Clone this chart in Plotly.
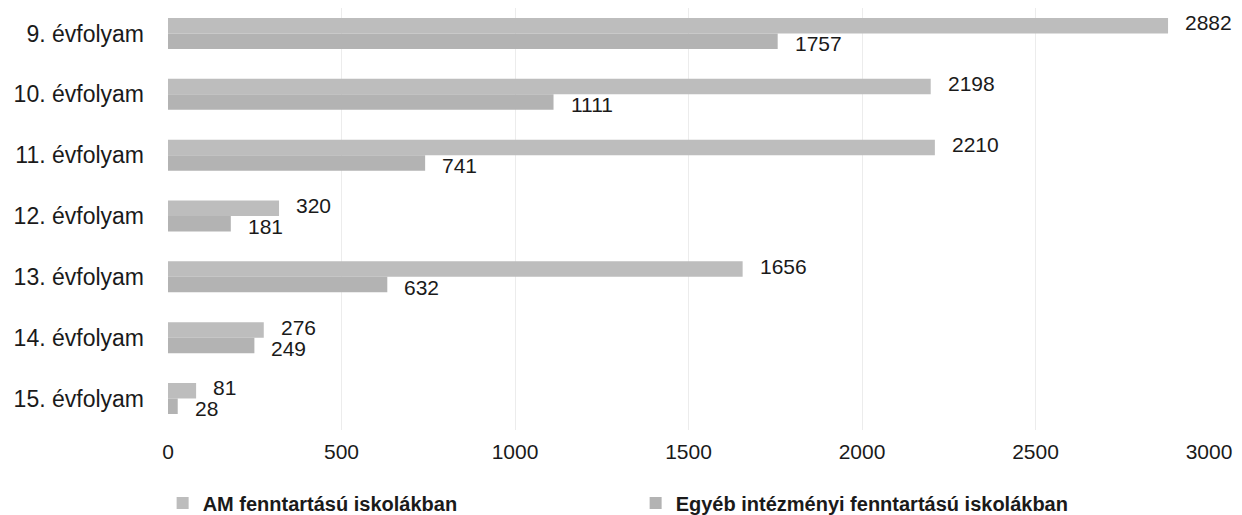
import plotly.graph_objects as go

categories = ["9. évfolyam", "10. évfolyam", "11. évfolyam", "12. évfolyam",
              "13. évfolyam", "14. évfolyam", "15. évfolyam"]
am_values = [2882, 2198, 2210, 320, 1656, 276, 81]
other_values = [1757, 1111, 741, 181, 632, 249, 28]
series_names = ["AM fenntartású iskolákban", "Egyéb intézményi fenntartású iskolákban"]
x_ticks = [0, 500, 1000, 1500, 2000, 2500, 3000]

FONT = "Liberation Sans, Arial, sans-serif"
TXT = "#1a1a1a"

fig = go.Figure()
fig.add_trace(go.Bar(
    y=categories, x=am_values, orientation="h", name=series_names[0],
    marker=dict(color="#bdbdbd", line=dict(width=0)),
))
fig.add_trace(go.Bar(
    y=categories, x=other_values, orientation="h", name=series_names[1],
    marker=dict(color="#b3b3b3", line=dict(width=0)),
))

# value labels next to bar ends (upper bar = AM, lower bar = Egyéb)
for cat, v in zip(categories, am_values):
    fig.add_annotation(x=v, y=cat, text=str(v), showarrow=False,
                       xanchor="left", yanchor="middle", xshift=15, yshift=10.5,
                       font=dict(family=FONT, size=21, color=TXT))
for cat, v in zip(categories, other_values):
    fig.add_annotation(x=v, y=cat, text=str(v), showarrow=False,
                       xanchor="left", yanchor="middle", xshift=15, yshift=-10.5,
                       font=dict(family=FONT, size=21, color=TXT))

fig.update_layout(
    width=1242, height=515,
    margin=dict(l=160, r=41, t=0, b=93, autoexpand=False),
    paper_bgcolor="white", plot_bgcolor="white",
    barmode="group", bargap=0.49, bargroupgap=0,
    font=dict(family=FONT, size=21, color=TXT),
    showlegend=True,
    legend=dict(
        orientation="h", xref="container", x=0.1245, xanchor="left",
        yref="container", y=0.039, yanchor="middle",
        font=dict(family=FONT, size=20, color=TXT, weight="bold"),
        itemwidth=30, entrywidth=428, entrywidthmode="pixels",
        bgcolor="rgba(0,0,0,0)",
    ),
)
fig.update_xaxes(
    range=[0, 3000], tickvals=x_ticks, ticktext=[str(v) for v in x_ticks],
    showgrid=True, gridcolor="#ececec", gridwidth=1, zeroline=False,
    showline=False, ticks="", ticklabelstandoff=7, automargin=False,
    tickfont=dict(family=FONT, size=21, color=TXT),
)
fig.update_yaxes(
    range=[6.518, -0.419], showgrid=False, zeroline=False, showline=False,
    ticks="", ticklabelstandoff=23, automargin=False,
    tickfont=dict(family=FONT, size=23, color=TXT),
)

fig.write_html("out.html")
